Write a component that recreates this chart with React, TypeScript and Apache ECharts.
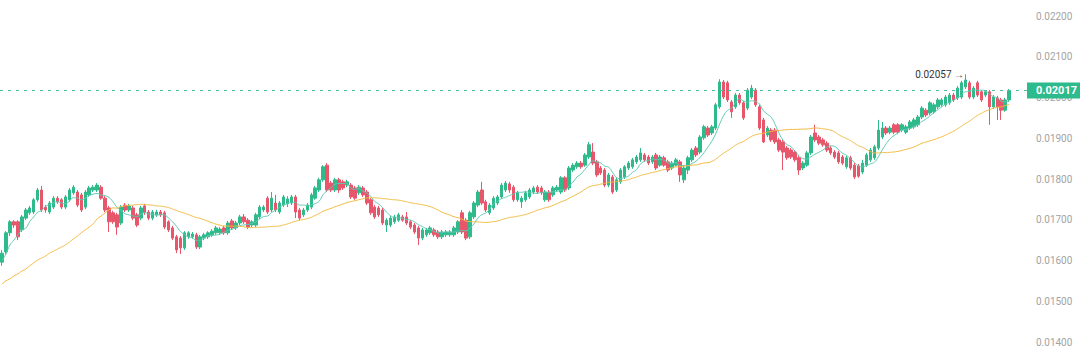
import React, { useEffect, useRef } from "react";
import * as echarts from "echarts";

// [open, close, low, high]
const candles: number[][] = [
  [0.01596, 0.01618, 0.01587, 0.01626],
  [0.01621, 0.01668, 0.01616, 0.01672],
  [0.01668, 0.01695, 0.0166, 0.01699],
  [0.01695, 0.01687, 0.0168, 0.01699],
  [0.01695, 0.01658, 0.0165, 0.01699],
  [0.01675, 0.01707, 0.0167, 0.01712],
  [0.01704, 0.01724, 0.01699, 0.01729],
  [0.01717, 0.01729, 0.01712, 0.01734],
  [0.01719, 0.01749, 0.01714, 0.01753],
  [0.01749, 0.01773, 0.01744, 0.01778],
  [0.01773, 0.01724, 0.01719, 0.01783],
  [0.01731, 0.01724, 0.01717, 0.01736],
  [0.01719, 0.01741, 0.01714, 0.01746],
  [0.01731, 0.01753, 0.01726, 0.01758],
  [0.01753, 0.01744, 0.01739, 0.01758],
  [0.01749, 0.01731, 0.01726, 0.01753],
  [0.01731, 0.01756, 0.01726, 0.01761],
  [0.01749, 0.01773, 0.01744, 0.01778],
  [0.01766, 0.0178, 0.01761, 0.01785],
  [0.01768, 0.01736, 0.01731, 0.01773],
  [0.01761, 0.01724, 0.01719, 0.01766],
  [0.01731, 0.01768, 0.01726, 0.01773],
  [0.01761, 0.01778, 0.01756, 0.01783],
  [0.01773, 0.0178, 0.01768, 0.01785],
  [0.01773, 0.01785, 0.01768, 0.0179],
  [0.0178, 0.01753, 0.01749, 0.01785],
  [0.01753, 0.01724, 0.01719, 0.01758],
  [0.01729, 0.01695, 0.0167, 0.01734],
  [0.01717, 0.01695, 0.0169, 0.01722],
  [0.01712, 0.01682, 0.01663, 0.01717],
  [0.01692, 0.01731, 0.01687, 0.01736],
  [0.01736, 0.01724, 0.01719, 0.01741],
  [0.01724, 0.01734, 0.01719, 0.01739],
  [0.01729, 0.01704, 0.01699, 0.01734],
  [0.01712, 0.01687, 0.01682, 0.01717],
  [0.01704, 0.01729, 0.01699, 0.01734],
  [0.01734, 0.01717, 0.01712, 0.01739],
  [0.01719, 0.01704, 0.01699, 0.01724],
  [0.01704, 0.01719, 0.01699, 0.01724],
  [0.01712, 0.01719, 0.01707, 0.01724],
  [0.01719, 0.01712, 0.01707, 0.01724],
  [0.01717, 0.01682, 0.01677, 0.01722],
  [0.01695, 0.01675, 0.0167, 0.01699],
  [0.0168, 0.01655, 0.0165, 0.01685],
  [0.01658, 0.01626, 0.01618, 0.01663],
  [0.01655, 0.01631, 0.01616, 0.0166],
  [0.01631, 0.01668, 0.01626, 0.01672],
  [0.01658, 0.01668, 0.01653, 0.01672],
  [0.01658, 0.01665, 0.01653, 0.0167],
  [0.01663, 0.01633, 0.01628, 0.01668],
  [0.01633, 0.01658, 0.01628, 0.01663],
  [0.01655, 0.01663, 0.0165, 0.01668],
  [0.01658, 0.01668, 0.01653, 0.01672],
  [0.01663, 0.01672, 0.01658, 0.01677],
  [0.01668, 0.0168, 0.01663, 0.01685],
  [0.01668, 0.01677, 0.01663, 0.01682],
  [0.0168, 0.01668, 0.01663, 0.01685],
  [0.01668, 0.01692, 0.01663, 0.01697],
  [0.01697, 0.0168, 0.01675, 0.01702],
  [0.0168, 0.01692, 0.01675, 0.01697],
  [0.01692, 0.01707, 0.01687, 0.01712],
  [0.01707, 0.01695, 0.0169, 0.01714],
  [0.01699, 0.01682, 0.01677, 0.01704],
  [0.01687, 0.01695, 0.01682, 0.01699],
  [0.01687, 0.01712, 0.01682, 0.01717],
  [0.01707, 0.01731, 0.01702, 0.01736],
  [0.01724, 0.01731, 0.01719, 0.01736],
  [0.01753, 0.01719, 0.01714, 0.01758],
  [0.01724, 0.01753, 0.01719, 0.01768],
  [0.01741, 0.01724, 0.01719, 0.01761],
  [0.01719, 0.01741, 0.01714, 0.01746],
  [0.01736, 0.01756, 0.01731, 0.01761],
  [0.01739, 0.01751, 0.01731, 0.01758],
  [0.01741, 0.01756, 0.01736, 0.01761],
  [0.01756, 0.01719, 0.01704, 0.01761],
  [0.01724, 0.01704, 0.01699, 0.01729],
  [0.01712, 0.01724, 0.01707, 0.01729],
  [0.01724, 0.01736, 0.01719, 0.01741],
  [0.01731, 0.01761, 0.01726, 0.01766],
  [0.01753, 0.01778, 0.01749, 0.01783],
  [0.01773, 0.01798, 0.01768, 0.01803],
  [0.01798, 0.0183, 0.01793, 0.01834],
  [0.01834, 0.01773, 0.01768, 0.01839],
  [0.0179, 0.01773, 0.01768, 0.01795],
  [0.01773, 0.01798, 0.01768, 0.01803],
  [0.01798, 0.01773, 0.01766, 0.01803],
  [0.01793, 0.01778, 0.01773, 0.01798],
  [0.01785, 0.01793, 0.0178, 0.01798],
  [0.01785, 0.01756, 0.01751, 0.0179],
  [0.01778, 0.01753, 0.01749, 0.01783],
  [0.01766, 0.0178, 0.01761, 0.01785],
  [0.01778, 0.01761, 0.01756, 0.01783],
  [0.01768, 0.01741, 0.01736, 0.01773],
  [0.01749, 0.01717, 0.01712, 0.01753],
  [0.01731, 0.01707, 0.01702, 0.01736],
  [0.01729, 0.01712, 0.01707, 0.01734],
  [0.01724, 0.01692, 0.01687, 0.01729],
  [0.01687, 0.01699, 0.0167, 0.01704],
  [0.01687, 0.01704, 0.01682, 0.01709],
  [0.01695, 0.01707, 0.0169, 0.01712],
  [0.01699, 0.01712, 0.01695, 0.01717],
  [0.01707, 0.01699, 0.01695, 0.01712],
  [0.01707, 0.01692, 0.01687, 0.01719],
  [0.01695, 0.01682, 0.01677, 0.01699],
  [0.01687, 0.0167, 0.01665, 0.01692],
  [0.0168, 0.01655, 0.01638, 0.01685],
  [0.01655, 0.01675, 0.0165, 0.0168],
  [0.01663, 0.01675, 0.01658, 0.0168],
  [0.01668, 0.0168, 0.01663, 0.01685],
  [0.01675, 0.01663, 0.01658, 0.0168],
  [0.0167, 0.01658, 0.01653, 0.01675],
  [0.01658, 0.0167, 0.01653, 0.01675],
  [0.01663, 0.0167, 0.01658, 0.01675],
  [0.01663, 0.0167, 0.01658, 0.01675],
  [0.01663, 0.0168, 0.01658, 0.01685],
  [0.0167, 0.01695, 0.01665, 0.01699],
  [0.01717, 0.0167, 0.01665, 0.01724],
  [0.01699, 0.01655, 0.0165, 0.01704],
  [0.01658, 0.01717, 0.01653, 0.01722],
  [0.01707, 0.01741, 0.01702, 0.01746],
  [0.01736, 0.01768, 0.01731, 0.01773],
  [0.01773, 0.01741, 0.01736, 0.01793],
  [0.01744, 0.01724, 0.01719, 0.01749],
  [0.01717, 0.01736, 0.01712, 0.01741],
  [0.01729, 0.01753, 0.01724, 0.01758],
  [0.01741, 0.01756, 0.01736, 0.01761],
  [0.01756, 0.01785, 0.01751, 0.0179],
  [0.01773, 0.0179, 0.01768, 0.01795],
  [0.01788, 0.01773, 0.01766, 0.01793],
  [0.0178, 0.01749, 0.01744, 0.01785],
  [0.01749, 0.01766, 0.01744, 0.01771],
  [0.01744, 0.01753, 0.01729, 0.01758],
  [0.01749, 0.01766, 0.01744, 0.01771],
  [0.01756, 0.01773, 0.01751, 0.01778],
  [0.01768, 0.01778, 0.01763, 0.01783],
  [0.0178, 0.01768, 0.01763, 0.01785],
  [0.01778, 0.01766, 0.01761, 0.01783],
  [0.01749, 0.01768, 0.01744, 0.01773],
  [0.01768, 0.01749, 0.01744, 0.01773],
  [0.01761, 0.01778, 0.01756, 0.01783],
  [0.01773, 0.0178, 0.01768, 0.01785],
  [0.01768, 0.01803, 0.01763, 0.01807],
  [0.01803, 0.01773, 0.01768, 0.01807],
  [0.01778, 0.01827, 0.01773, 0.01832],
  [0.01822, 0.01834, 0.01817, 0.01839],
  [0.0183, 0.01839, 0.01825, 0.01844],
  [0.01839, 0.0183, 0.01825, 0.01844],
  [0.01834, 0.01859, 0.0183, 0.01864],
  [0.01854, 0.01884, 0.01849, 0.01891],
  [0.01866, 0.01839, 0.01834, 0.01888],
  [0.01842, 0.0181, 0.01805, 0.01847],
  [0.01827, 0.01815, 0.0181, 0.01832],
  [0.01822, 0.01785, 0.0178, 0.01827],
  [0.01785, 0.0181, 0.0178, 0.01815],
  [0.01805, 0.01768, 0.01763, 0.0181],
  [0.01773, 0.01798, 0.01768, 0.01803],
  [0.01793, 0.01822, 0.01788, 0.01827],
  [0.01805, 0.0183, 0.018, 0.01834],
  [0.01827, 0.01839, 0.01822, 0.01844],
  [0.0183, 0.01847, 0.01825, 0.01852],
  [0.01842, 0.01854, 0.01837, 0.01859],
  [0.01847, 0.01864, 0.01842, 0.01876],
  [0.01859, 0.01847, 0.01842, 0.01864],
  [0.01854, 0.01839, 0.01834, 0.01859],
  [0.01842, 0.01854, 0.01837, 0.01859],
  [0.01859, 0.01827, 0.01822, 0.01864],
  [0.01834, 0.01854, 0.0183, 0.01859],
  [0.01852, 0.01834, 0.0183, 0.01857],
  [0.01842, 0.01822, 0.01817, 0.01847],
  [0.01827, 0.01839, 0.01822, 0.01844],
  [0.01834, 0.01847, 0.0183, 0.01852],
  [0.01842, 0.0181, 0.01793, 0.01847],
  [0.01798, 0.01827, 0.0179, 0.01832],
  [0.01822, 0.01852, 0.01812, 0.01857],
  [0.01847, 0.01871, 0.01842, 0.01876],
  [0.01876, 0.01859, 0.01854, 0.01881],
  [0.01866, 0.01903, 0.01861, 0.01908],
  [0.01901, 0.01928, 0.01896, 0.01933],
  [0.01925, 0.01908, 0.01903, 0.0193],
  [0.01913, 0.01928, 0.01908, 0.01933],
  [0.01925, 0.01982, 0.0192, 0.01987],
  [0.01977, 0.02038, 0.01972, 0.02045],
  [0.02038, 0.02001, 0.01996, 0.02043],
  [0.02036, 0.01994, 0.01989, 0.02041],
  [0.01989, 0.01965, 0.0195, 0.01994],
  [0.01977, 0.02006, 0.01972, 0.02011],
  [0.02006, 0.01987, 0.01982, 0.02011],
  [0.01987, 0.0195, 0.01945, 0.01991],
  [0.01974, 0.02018, 0.01969, 0.02023],
  [0.02001, 0.02023, 0.01996, 0.02031],
  [0.02018, 0.01982, 0.01977, 0.02023],
  [0.01977, 0.01925, 0.0192, 0.01982],
  [0.01945, 0.01891, 0.01888, 0.0195],
  [0.01908, 0.01925, 0.01903, 0.0193],
  [0.0192, 0.01896, 0.01891, 0.01925],
  [0.0192, 0.01891, 0.01886, 0.01925],
  [0.01896, 0.01871, 0.01866, 0.01901],
  [0.01891, 0.01866, 0.01822, 0.01896],
  [0.01876, 0.01852, 0.01847, 0.01881],
  [0.01871, 0.01854, 0.01849, 0.01876],
  [0.01866, 0.01847, 0.01842, 0.01871],
  [0.01852, 0.01822, 0.0181, 0.01857],
  [0.01827, 0.01839, 0.01822, 0.01844],
  [0.01834, 0.01864, 0.0183, 0.01869],
  [0.01864, 0.01903, 0.01859, 0.01908],
  [0.01913, 0.01896, 0.01891, 0.01933],
  [0.01903, 0.01888, 0.01883, 0.01908],
  [0.01896, 0.01884, 0.01879, 0.01901],
  [0.01888, 0.01871, 0.01866, 0.01893],
  [0.01876, 0.01864, 0.01859, 0.01881],
  [0.01866, 0.01854, 0.01849, 0.01871],
  [0.01864, 0.01842, 0.01837, 0.01869],
  [0.01854, 0.01839, 0.01834, 0.01859],
  [0.0183, 0.01852, 0.01825, 0.01857],
  [0.01852, 0.01827, 0.01822, 0.01857],
  [0.01834, 0.01805, 0.018, 0.01839],
  [0.01832, 0.01807, 0.01803, 0.01837],
  [0.01817, 0.01839, 0.01812, 0.01847],
  [0.01834, 0.01859, 0.0183, 0.01864],
  [0.01847, 0.01871, 0.01842, 0.01876],
  [0.01852, 0.01879, 0.01847, 0.01884],
  [0.01876, 0.0192, 0.01871, 0.01945],
  [0.01903, 0.01925, 0.01898, 0.0194],
  [0.01925, 0.01913, 0.01908, 0.0193],
  [0.01915, 0.01925, 0.0191, 0.0193],
  [0.01933, 0.01915, 0.0191, 0.01937],
  [0.01933, 0.01915, 0.0191, 0.01937],
  [0.0192, 0.01933, 0.01915, 0.01937],
  [0.01915, 0.01928, 0.0191, 0.01933],
  [0.01925, 0.0194, 0.0192, 0.01945],
  [0.01928, 0.01945, 0.01923, 0.0195],
  [0.01933, 0.01952, 0.01928, 0.01957],
  [0.01952, 0.01974, 0.01947, 0.01979],
  [0.01969, 0.01957, 0.01952, 0.01974],
  [0.01962, 0.01987, 0.01957, 0.01991],
  [0.01965, 0.01982, 0.0196, 0.01987],
  [0.01977, 0.01994, 0.01972, 0.01999],
  [0.01982, 0.01994, 0.01977, 0.01999],
  [0.01982, 0.02001, 0.01977, 0.02006],
  [0.01987, 0.02006, 0.01982, 0.02011],
  [0.02006, 0.01994, 0.01989, 0.02011],
  [0.01999, 0.02023, 0.01994, 0.02028],
  [0.02001, 0.02036, 0.01996, 0.02041],
  [0.02026, 0.02043, 0.02021, 0.02057],
  [0.02036, 0.02001, 0.01996, 0.02041],
  [0.02001, 0.02023, 0.01996, 0.02028],
  [0.02036, 0.02006, 0.02001, 0.02041],
  [0.02014, 0.01994, 0.01989, 0.02018],
  [0.02006, 0.02014, 0.02001, 0.02018],
  [0.02014, 0.01977, 0.01933, 0.02018],
  [0.01977, 0.02001, 0.01972, 0.02006],
  [0.01999, 0.01977, 0.01945, 0.02004],
  [0.01994, 0.01969, 0.01945, 0.01999],
  [0.01969, 0.01994, 0.01965, 0.01999],
  [0.01994, 0.02017, 0.01989, 0.02021],
];

// slow (30) moving average as read for the first candles, whose window starts before the view
const maSlowHead: number[] = [
  0.01542, 0.0155, 0.01555, 0.01562, 0.01567, 0.01574, 0.01579, 0.01587, 0.01594, 0.01601,
  0.01606, 0.01611, 0.01618, 0.01623, 0.01628, 0.01633, 0.01638, 0.01645, 0.01653, 0.0166,
  0.01668, 0.01675, 0.01682, 0.0169, 0.01702, 0.01709, 0.01717, 0.01724, 0.01729,
];
// fast (7) moving average as read for the first candles
const maFastHead: number[] = [0.01599, 0.01616, 0.01638, 0.0165, 0.01663, 0.01675];

const MA_FAST = 7;
const MA_SLOW = 30;
const EMPTY_SLOTS = 4;
const yMin = 0.014;
const yMax = 0.022;
const yStep = 0.001;

const UP = "#2fba8c";
const DOWN = "#e8566c";

function movingAverage(period: number, head: number[]): number[] {
  return candles.map((_, i) => {
    if (i < head.length) return head[i];
    let s = 0;
    for (let k = i - period + 1; k <= i; k++) s += candles[k][1];
    return +(s / period).toFixed(6);
  });
}

export default function App() {
  const ref = useRef<HTMLDivElement>(null);
  useEffect(() => {
    if (!ref.current) return;
    const chart = echarts.init(ref.current, undefined, { renderer: "svg" });
    const categories = candles.map((_, i) => "c" + i);
    for (let i = 0; i < EMPTY_SLOTS; i++) categories.push("e" + i);
    const lastClose = candles[candles.length - 1][1];
    const font = "Roboto, 'Noto Sans', sans-serif";
    chart.setOption({
      animation: false,
      backgroundColor: "#ffffff",
      grid: { left: 0, right: 53, top: 16, bottom: 20 },
      xAxis: {
        type: "category",
        data: categories,
        show: false,
        boundaryGap: true,
      },
      yAxis: {
        type: "value",
        position: "right",
        min: yMin,
        max: yMax,
        interval: yStep,
        scale: true,
        splitLine: { show: false },
        axisLine: { show: false },
        axisTick: { show: false },
        axisLabel: {
          color: "#a3a3a3",
          fontSize: 10,
          fontFamily: font,
          margin: 9,
          formatter: (v: number) => v.toFixed(5),
        },
      },
      series: [
        {
          type: "candlestick",
          data: candles,
          barWidth: 3,
          itemStyle: {
            color: UP,
            color0: DOWN,
            borderColor: UP,
            borderColor0: DOWN,
            borderWidth: 1,
          },
          markLine: {
            symbol: "none",
            silent: true,
            precision: 5,
            data: [{ yAxis: lastClose }],
            lineStyle: { color: "#4cc09c", type: [3, 5], width: 1 },
            label: {
              show: true,
              position: "end",
              distance: 0,
              formatter: () => lastClose.toFixed(5),
              backgroundColor: "#2dba8c",
              color: "#ffffff",
              fontSize: 11,
              fontWeight: "bold",
              fontFamily: font,
              padding: [3, 10, 2, 9],
            },
          },
          markPoint: {
            symbol: "rect",
            symbolSize: 1,
            itemStyle: { color: "rgba(0,0,0,0)" },
            data: [{ type: "max", valueDim: "highest" }],
            label: {
              show: true,
              position: "left",
              distance: 1,
              color: "#333333",
              fontSize: 10,
              fontFamily: font,
              formatter: (p: any) => Number(p.value).toFixed(5) + " \u2192",
            },
          },
        },
        {
          type: "line",
          data: movingAverage(MA_FAST, maFastHead),
          showSymbol: false,
          smooth: true,
          lineStyle: { color: "#5ec9b3", width: 1 },
          itemStyle: { color: "#5ec9b3" },
        },
        {
          type: "line",
          data: movingAverage(MA_SLOW, maSlowHead),
          showSymbol: false,
          smooth: true,
          lineStyle: { color: "#f0b93f", width: 1 },
          itemStyle: { color: "#f0b93f" },
        },
      ],
    });
    return () => chart.dispose();
  }, []);
  return (
    <div
      ref={ref}
      style={{ position: "fixed", left: 0, top: 0, width: 1080, height: 362, background: "#fff" }}
    />
  );
}
